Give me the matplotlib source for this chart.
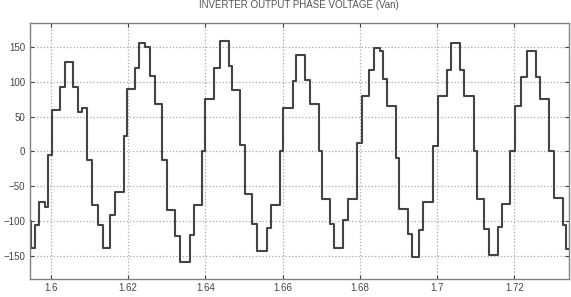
import numpy as np
import matplotlib
matplotlib.use("Agg")
import matplotlib.pyplot as plt

plt.rcParams['font.family'] = ['Liberation Sans', 'DejaVu Sans']

# switching instants (s) and the level held from each instant on
t_sw = [1.59451, 1.59482, 1.59594, 1.59705, 1.59852, 1.59938, 1.60026, 1.60241,
        1.60370, 1.60569, 1.60699, 1.60802, 1.60932, 1.61061, 1.61232, 1.61362,
        1.61535, 1.61664, 1.61884, 1.61962, 1.62174, 1.62286, 1.62441, 1.62570,
        1.62687, 1.62881, 1.63003, 1.63217, 1.63347, 1.63593, 1.63696, 1.63903,
        1.64002, 1.64227, 1.64369, 1.64602, 1.64693, 1.64908, 1.65016, 1.65198,
        1.65340, 1.65586, 1.65694, 1.65935, 1.66021, 1.66259, 1.66355, 1.66587,
        1.66707, 1.66945, 1.67022, 1.67240, 1.67343, 1.67571, 1.67701, 1.67936,
        1.68045, 1.68226, 1.68361, 1.68516, 1.68601, 1.68692, 1.68930, 1.69003,
        1.69261, 1.69352, 1.69533, 1.69637, 1.69908, 1.70012, 1.70258, 1.70369,
        1.70589, 1.70698, 1.70957, 1.71034, 1.71221, 1.71353, 1.71578, 1.71681,
        1.71901, 1.72026, 1.72186, 1.72321, 1.72562, 1.72665, 1.72898, 1.73033,
        1.73260, 1.73346, 1.73493]
v_an = [-100, -138, -105, -73, -79, -5, 59, 93,
        128, 92, 57, 63, -12, -77, -106, -138,
        -91, -58, 22, 89, 120, 155, 150, 108,
        68, -12, -84, -122, -158, -120, -77, 0,
        75, 120, 159, 123, 88, 10, -61, -104,
        -143, -110, -77, 0, 62, 101, 138, 102,
        68, 0, -68, -104, -138, -98, -68, 12,
        79, 117, 148, 144, 104, 66, -9, -82,
        -119, -151, -112, -73, 8, 79, 117, 155,
        117, 79, 0, -68, -111, -148, -108, -76,
        0, 65, 107, 144, 107, 75, 0, -67,
        -105, -140, -140]

x_ticks = [1.6, 1.62, 1.64, 1.66, 1.68, 1.7, 1.72]
x_labels = ['1.6', '1.62', '1.64', '1.66', '1.68', '1.7', '1.72']
y_ticks = [-150, -100, -50, 0, 50, 100, 150]

fig = plt.figure(figsize=(5.71, 2.97), dpi=100)
ax = fig.add_axes([0.0517, 0.0606, 0.9448, 0.861])

ax.step(t_sw, v_an, where='post', color='#444444', linewidth=1.5)

ax.set_xlim(1.59451, 1.73416)
ax.set_ylim(-183, 184)
ax.set_xticks(x_ticks)
ax.set_xticklabels(x_labels)
ax.set_yticks(y_ticks)
ax.tick_params(direction='in', length=3, labelsize=7, colors='#444444',
               top=True, right=True, pad=3)
ax.grid(True, linestyle=':', color='#a8a8a8', linewidth=0.9)
for s in ax.spines.values():
    s.set_color('#808080')
    s.set_linewidth(1.0)

ax.set_title('INVERTER OUTPUT PHASE VOLTAGE (Van)', fontsize=7, color='#555555', pad=11)

fig.savefig('out.png', dpi=100)
